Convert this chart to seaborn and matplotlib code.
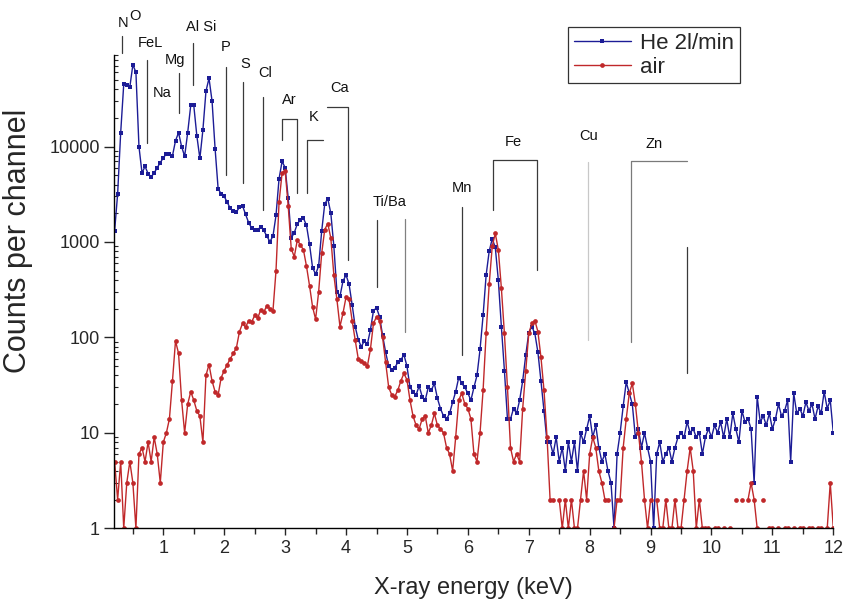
import numpy as np
import pandas as pd
import matplotlib
matplotlib.use("Agg")
import matplotlib.pyplot as plt
from matplotlib.ticker import FixedLocator, LogLocator, NullFormatter, FuncFormatter, MultipleLocator
import seaborn as sns

# channel energies (keV), one value every 0.05 keV
energy = np.round(np.arange(0.20, 12.001, 0.05), 2)

# counts per channel, He flush 2 l/min
he_counts = [
    1300, 3200, 14000, 45000, 44000, 42000, 72000, 60000, 10000, 5300, 6200, 5200, 4800, 5300, 6000, 6800, 7600, 8400, 8300, 8000,
    11500, 14000, 10000, 7900, 14000, 27000, 27000, 13000, 7500, 15000, 38000, 52000, 30000, 9500, 3600, 3200, 3000, 2600, 2250, 2100,
    2080, 2300, 2400, 1950, 1600, 1400, 1340, 1340, 1450, 1320, 1150, 1010, 1150, 1900, 4600, 7000, 6000, 2900, 1100, 1250,
    1550, 1700, 1780, 1500, 950, 540, 460, 560, 1300, 2500, 2850, 2000, 900, 300, 270, 390, 450, 360, 220, 130,
    95, 80, 92, 85, 120, 190, 205, 165, 105, 70, 50, 46, 48, 55, 58, 66, 50, 30, 27, 25,
    31, 24, 22, 30, 28, 33, 23, 18, 15, 14, 16, 21, 27, 38, 33, 30, 26, 22, 30, 40,
    75, 170, 450, 800, 1080, 880, 400, 130, 45, 14, 14, 18, 16, 22, 35, 65, 112, 130, 110, 70,
    35, 17, 8, 8, 6, 9, 5, 7, 4, 8, 5, 8, 4, 10, 8, 11, 15, 9, 12, 7,
    5, 6, 4, 3, 1, 6, 10, 19, 34, 26, 20, 9, 11, 7, 10, 7, 5, 1, 6, 8,
    5, 6, 7, 5, 7, 9, 10, 9, 13, 10, 11, 9, 10, 6, 9, 11, 9, 12, 10, 13,
    9, 14, 9, 16, 11, 8, 17, 13, 14, 11, 3, 24, 13, 15, 12, 16, 11, 14, 20, 15,
    17, 22, 5, 26, 16, 18, 15, 21, 17, 20, 14, 19, 16, 27, 18, 22, 10,
]

# counts per channel, air
air_counts = [
    5, 2, 5, 1, 3, 5, 3, 1, 6, 7, 5, 8, 5, 9, 6, 3, 8, 10, 14, 35,
    92, 68, 22, 10, 20, 27, 22, 17, 15, 8, 40, 52, 35, 27, 25, 38, 45, 52, 60, 68,
    78, 115, 140, 128, 150, 145, 170, 160, 195, 185, 215, 200, 190, 500, 2600, 5300, 5600, 2400, 850, 700,
    1050, 930, 830, 560, 350, 210, 155, 300, 760, 1350, 1560, 1100, 450, 250, 130, 180, 265, 250, 150, 94,
    60, 56, 54, 50, 75, 140, 165, 150, 100, 55, 30, 25, 24, 28, 35, 42, 36, 22, 15, 12,
    11, 14, 15, 10, 12, 16, 12, 11, 10, 7, 6, 4, 9, 22, 26, 20, 18, 14, 6, 5,
    10, 28, 110, 360, 900, 1230, 830, 330, 110, 30, 7, 5, 6, 5, 18, 45, 110, 140, 150, 115,
    62, 28, 9, 2, 2, 0, 2, 1, 2, 1, 2, 1, 1, 2, 4, 2, 6, 9, 7, 4,
    3, 2, 2, 0, 1, 2, 2, 7, 14, 26, 33, 20, 10, 5, 2, 1, 2, 0, 2, 1,
    1, 2, 1, 1, 2, 1, 1, 2, 4, 7, 4, 1, 2, 1, 1, 1, 0, 1, 1, 0,
    1, 0, 1, 0, 2, 0, 2, 0, 2, 3, 2, 1, 0, 2, 0, 1, 1, 0, 1, 0,
    1, 1, 0, 1, 0, 1, 1, 0, 1, 1, 0, 1, 1, 0, 1, 3, 1,
]

series_names = ["He 2l/min", "air"]
series_colors = ["#1c1c96", "#c0282a"]

# element labels: (text, keV, axes-fraction height)
elem_labels = [
    ("N", 0.34, 1.068), ("O", 0.54, 1.083), ("FeL", 0.78, 1.025), ("Na", 0.98, 0.920),
    ("Mg", 1.19, 0.989), ("Al Si", 1.62, 1.060), ("P", 2.03, 1.018), ("S", 2.34, 0.982),
    ("Cl", 2.67, 0.963), ("Ar", 3.07, 0.905), ("K", 3.46, 0.868), ("Ca", 3.89, 0.930),
    ("Ti/Ba", 4.72, 0.689), ("Mn", 5.91, 0.720), ("Fe", 6.75, 0.816), ("Cu", 7.99, 0.829),
    ("Zn", 9.06, 0.812),
]

sns.set_style("ticks")
plt.rcParams["font.family"] = ["Liberation Sans", "DejaVu Sans"]

assert len(he_counts) == len(energy) == len(air_counts)
df = pd.DataFrame({"energy": energy, "He 2l/min": he_counts, "air": air_counts})

fig = plt.figure(figsize=(8.46, 6.02), dpi=100)
ax = fig.add_axes([0.1351, 0.1224, 0.8499, 0.7862])

sns.lineplot(data=df, x="energy", y="He 2l/min", color=series_colors[0], lw=1.0,
             marker="s", markersize=3.4, markeredgewidth=0, label=series_names[0], ax=ax)
sns.lineplot(data=df, x="energy", y="air", color=series_colors[1], lw=1.0,
             marker="o", markersize=3.4, markeredgewidth=0, label=series_names[1], ax=ax)

ax.set_yscale("log", nonpositive="mask")
ax.set_ylim(1, 9.1e4)
ax.set_xlim(0.195, 12.0)

ax.xaxis.set_major_locator(FixedLocator(range(1, 13)))
ax.xaxis.set_minor_locator(MultipleLocator(0.5))
ax.yaxis.set_major_locator(FixedLocator([1, 10, 100, 1000, 10000]))
ax.yaxis.set_minor_locator(LogLocator(base=10, subs=np.arange(2, 10)))
ax.yaxis.set_major_formatter(FuncFormatter(lambda v, p: f"{v:g}"))
ax.yaxis.set_minor_formatter(NullFormatter())

ax.tick_params(axis="x", which="major", direction="out", length=5, width=1, labelsize=13)
ax.tick_params(axis="x", which="minor", direction="out", length=4, width=1)
ax.tick_params(axis="y", which="major", direction="out", length=7, width=1, labelsize=13)
ax.tick_params(axis="y", which="minor", direction="in", length=3, width=0.8)

sns.despine(ax=ax)
for s in ["left", "bottom"]:
    ax.spines[s].set_color("black")
    ax.spines[s].set_linewidth(1)

ax.set_xlabel("X-ray energy (keV)", fontsize=17)
ax.set_ylabel("Counts per channel", fontsize=22)
ax.xaxis.set_label_coords(0.5, -0.103)
ax.yaxis.set_label_coords(-0.113, 0.607)

# element marker lines
trans = ax.get_xaxis_transform()
dark = "#3a3a3a"
marker_lines = [
    ([0.317, 0.317], [1.004, 1.040], dark),
    ([0.727, 0.727], [0.815, 0.989], dark),
    ([1.258, 1.258], [0.877, 0.963], dark),
    ([1.483, 1.483], [0.937, 1.025], dark),
    ([2.025, 2.025], [0.746, 0.975], dark),
    ([2.314, 2.314], [0.730, 0.944], dark),
    ([2.632, 2.632], [0.672, 0.911], dark),
    ([2.944, 2.944, 3.190, 3.190], [0.820, 0.864, 0.864, 0.708], dark),
    ([3.365, 3.365, 3.627], [0.709, 0.820, 0.820], dark),
    ([3.683, 4.038, 4.038], [0.891, 0.891, 0.567], dark),
    ([4.504, 4.504], [0.510, 0.652], dark),
    ([4.969, 4.969], [0.415, 0.653], "#808080"),
    ([5.900, 5.900], [0.366, 0.679], dark),
    ([6.419, 6.419, 7.141, 7.141], [0.672, 0.778, 0.778, 0.546], dark),
    ([7.979, 7.979], [0.398, 0.773], "#c8c8c8"),
    ([8.680, 8.680, 9.594], [0.394, 0.776, 0.776], "#7a7a7a"),
    ([9.594, 9.594], [0.329, 0.595], dark),
]
for xs, ys, c in marker_lines:
    ax.plot(xs, ys, color=c, lw=0.9, transform=trans, clip_on=False, zorder=1)

for txt, xk, yf in elem_labels:
    ax.text(xk, yf, txt, transform=trans, ha="center", va="center",
            fontsize=10.5, color="#111111", clip_on=False)

leg = ax.legend(loc="upper left", bbox_to_anchor=(568 / 846, 1 - 27 / 602),
                bbox_transform=fig.transFigure, borderaxespad=0, fontsize=16,
                fancybox=False, frameon=True, handlelength=2.6, handletextpad=0.4,
                borderpad=0.25, labelspacing=0.15)
leg.get_frame().set_edgecolor("black")
leg.get_frame().set_linewidth(0.9)

fig.savefig("out.png", dpi=100)
